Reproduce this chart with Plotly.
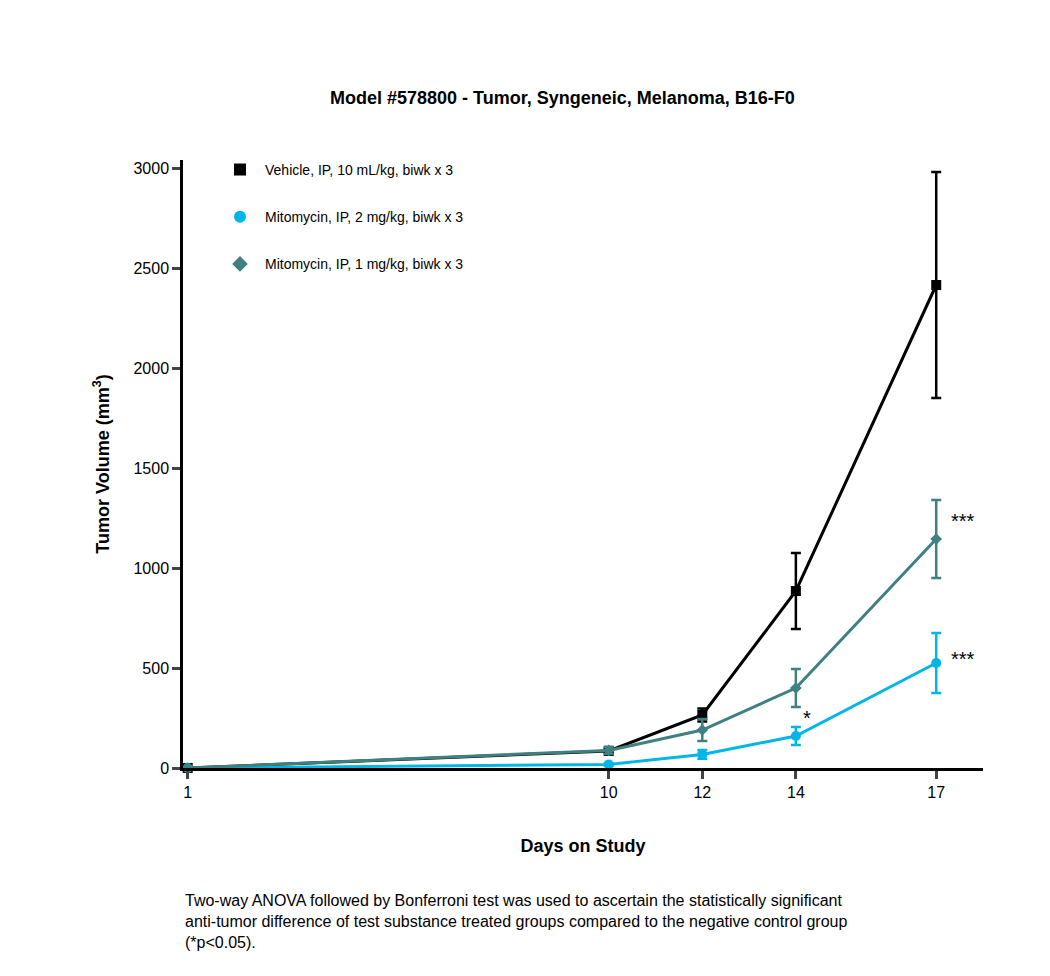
import plotly.graph_objects as go

days = [1, 10, 12, 14, 17]
tick_labels = ["1", "10", "12", "14", "17"]

vehicle = [0, 85, 265, 885, 2415]
vehicle_err = [0, 12, 32, 190, 565]
mito2 = [0, 18, 68, 160, 525]
mito2_err = [0, 6, 22, 45, 150]
mito1 = [0, 88, 190, 400, 1145]
mito1_err = [0, 18, 55, 95, 195]

names = ["Vehicle, IP, 10 mL/kg, biwk x 3",
         "Mitomycin, IP, 2 mg/kg, biwk x 3",
         "Mitomycin, IP, 1 mg/kg, biwk x 3"]
colors = ["#000000", "#00b6e6", "#3f8080"]
symbols = ["square", "circle", "diamond"]

fig = go.Figure()
for i, (y, e, n, c, s) in enumerate(zip([vehicle, mito2, mito1], [vehicle_err, mito2_err, mito1_err],
                                        names, colors, symbols)):
    fig.add_trace(go.Scatter(
        x=days, y=y, name=n, mode="lines+markers", showlegend=False,
        line=dict(color=c, width=3),
        marker=dict(symbol=s, size=10 if s != "diamond" else 9, color=c),
        error_y=dict(type="data", array=e, color=c, thickness=2.5, width=5),
        cliponaxis=False,
    ))
    # marker-only legend entry
    fig.add_trace(go.Scatter(
        x=[None], y=[None], name=n, mode="markers", legendgroup=str(i),
        marker=dict(symbol=s, size=11 if s != "diamond" else 9, color=c),
    ))

# significance marks
fig.add_annotation(x=17, y=1145, text="***", showarrow=False, xshift=27, yshift=18,
                   font=dict(size=20, color="black"))
fig.add_annotation(x=17, y=525, text="***", showarrow=False, xshift=27, yshift=4,
                   font=dict(size=20, color="black"))
fig.add_annotation(x=14, y=160, text="*", showarrow=False, xshift=11, yshift=18,
                   font=dict(size=20, color="black"))

fig.add_annotation(xref="paper", yref="paper", x=0.0, y=-0.2, xanchor="left", yanchor="top",
                   align="left", showarrow=False,
                   text="Two-way ANOVA followed by Bonferroni test was used to ascertain the statistically significant<br>"
                        "anti-tumor difference of test substance treated groups compared to the negative control group<br>"
                        "(*p<0.05).",
                   font=dict(size=16, color="black"))

fig.update_layout(
    width=1050, height=976,
    paper_bgcolor="white", plot_bgcolor="white",
    font=dict(family="Liberation Sans, Arial", color="black"),
    margin=dict(l=175, r=75, t=152, b=216),
    title=dict(text="<b>Model #578800 - Tumor, Syngeneic, Melanoma, B16-F0</b>",
               x=0.528, xanchor="center", y=0.915, font=dict(size=18)),
    legend=dict(x=0.04, y=1.01, xanchor="left", yanchor="top", bgcolor="rgba(0,0,0,0)",
                font=dict(size=14), tracegroupgap=26, itemsizing="constant",
                traceorder="grouped", itemwidth=40),
    showlegend=True,
)
fig.update_xaxes(range=[0.9, 18], tickvals=days, ticktext=tick_labels,
                 showline=True, linecolor="black", linewidth=2.5, ticks="outside",
                 ticklen=8, tickwidth=2.5, showgrid=False, zeroline=False,
                 tickfont=dict(size=16),
                 title=dict(text="<b>Days on Study</b>", font=dict(size=18), standoff=40))
fig.update_yaxes(range=[0, 3040], tickvals=[0, 500, 1000, 1500, 2000, 2500, 3000],
                 showline=True, linecolor="black", linewidth=2.5, ticks="outside",
                 ticklen=8, tickwidth=2.5, showgrid=False, zeroline=False,
                 tickfont=dict(size=16),
                 title=dict(text="<b>Tumor Volume (mm<sup>3</sup>)</b>", font=dict(size=18), standoff=20))

fig.write_html("out.html")
